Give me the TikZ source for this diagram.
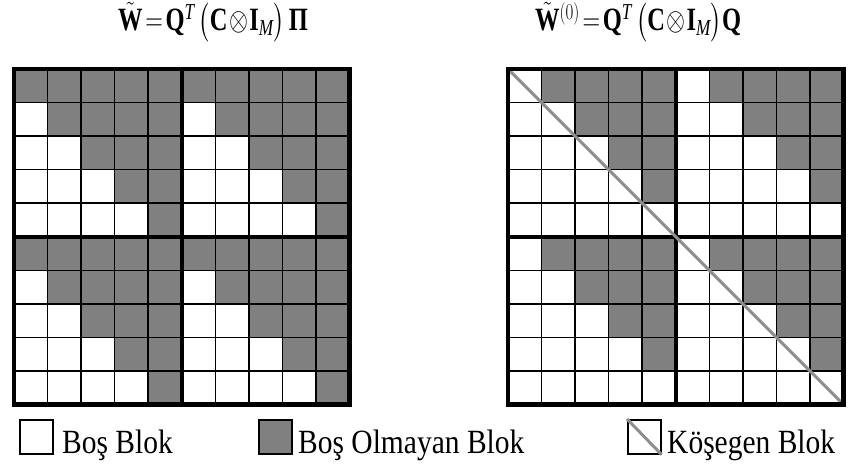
\documentclass[tikz,border=0pt]{standalone}
\usepackage{amsmath}
\usepackage{graphicx}
\usepackage{fontspec}
\setmainfont{Liberation Serif}
\definecolor{blockgray}{HTML}{808080}
\definecolor{diaggray}{HTML}{8E8E8E}

% text set slightly taller than wide
\newcommand\tallbox[1]{\scalebox{1}[1.15]{#1}}
\newcommand\talltitle[1]{\scalebox{0.98}[1.3]{#1}}

\tikzset{
  cell/.style={draw=black, line width=1.6pt},
  gridframe/.style={draw=black, line width=4.6pt},
  blocksep/.style={draw=black, line width=3.6pt},
  diagline/.style={draw=diaggray, line width=3pt},
  title/.style={font=\bfseries\fontsize{25}{29}\selectfont, anchor=base west, inner sep=0pt},
  legtext/.style={font=\fontsize{29.5}{33}\selectfont, anchor=base west, inner sep=0pt},
  legbox/.style={draw=black, line width=1.6pt, minimum width=33pt, minimum height=34pt, inner sep=0pt, anchor=north west},
}

\begin{document}
\begin{tikzpicture}[x=1pt, y=-1pt]
\useasboundingbox (0,0) rectangle (850,470);
\def\cs{33.55}

% titles
\node[title] (lefttitle) at (118,31)
  {\talltitle{$\medmuskip=1mu\thickmuskip=2mu
    \tilde{\mathbf{W}} = \mathbf{Q}^{\mathit{T}}\,\bigl(\mathbf{C}\otimes\mathbf{I}_{\mathit{M}}\bigr)\,\text{\bfseries Π}$}};
\node[title] (righttitle) at (535,31)
  {\talltitle{$\medmuskip=1mu\thickmuskip=2mu
    \tilde{\mathbf{W}}^{(0)} = \mathbf{Q}^{\mathit{T}}\,\bigl(\mathbf{C}\otimes\mathbf{I}_{\mathit{M}}\bigr)\mathbf{Q}$}};

% left matrix: every 5x5 block is upper triangular (diagonal included)
\foreach \r in {0,...,9}{
  \foreach \c in {0,...,9}{
    \pgfmathtruncatemacro\rr{mod(\r,5)}
    \pgfmathtruncatemacro\cc{mod(\c,5)}
    \ifnum\cc<\rr \def\fillc{white}\else\def\fillc{blockgray}\fi
    \filldraw[cell, fill=\fillc] (14+\c*\cs, 69+\r*\cs) rectangle ++(\cs,\cs);
  }
}
\draw[blocksep] (14+5*\cs,69) -- ++(0,10*\cs);
\draw[blocksep] (14,69+5*\cs) -- ++(10*\cs,0);
\draw[gridframe] (14,69) rectangle ++(10*\cs,10*\cs);

% right matrix: strictly upper triangular blocks, diagonal split across
\foreach \r in {0,...,9}{
  \foreach \c in {0,...,9}{
    \pgfmathtruncatemacro\rr{mod(\r,5)}
    \pgfmathtruncatemacro\cc{mod(\c,5)}
    \ifnum\cc>\rr \def\fillc{blockgray}\else\def\fillc{white}\fi
    \filldraw[cell, fill=\fillc] (508+\c*\cs, 69+\r*\cs) rectangle ++(\cs,\cs);
  }
}
\draw[blocksep] (508+5*\cs,69) -- ++(0,10*\cs);
\draw[blocksep] (508,69+5*\cs) -- ++(10*\cs,0);
\draw[diagline] (508,69) -- ++(10*\cs,10*\cs);
\draw[gridframe] (508,69) rectangle ++(10*\cs,10*\cs);

% legend
\node[legbox] (boxempty) at (19,419) {};
\node[legtext] (txtempty) at (62,453) {\tallbox{Boş Blok}};
\node[legbox, fill=blockgray] (boxfull) at (258,419) {};
\node[legtext] (txtfull) at (298,453) {\tallbox{Boş Olmayan Blok}};
\node[legbox] (boxdiag) at (627,419) {};
\draw[diagline] (boxdiag.north west) -- (boxdiag.south east);
\node[legtext] (txtdiag) at (667,453) {\tallbox{Köşegen Blok}};
\end{tikzpicture}
\end{document}
